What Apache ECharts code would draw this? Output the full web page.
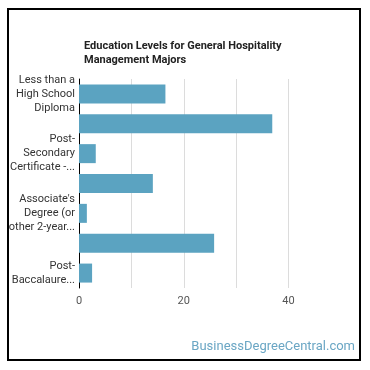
<!DOCTYPE html>
<html>
<head>
<meta charset="utf-8">
<script src="https://cdn.jsdelivr.net/npm/echarts@6/dist/echarts.min.js"></script>
<style>
html,body{margin:0;padding:0;background:#fff;}
#frame{position:absolute;left:7px;top:8px;width:350px;height:349px;border:2px solid #000;}
#chart{position:absolute;left:0;top:0;width:370px;height:370px;}
</style>
</head>
<body>
<div id="frame"></div>
<div id="chart"></div>
<script>
var titleText = "Education Levels for General Hospitality\nManagement Majors";
var categories = [
  "Less than a High School Diploma",
  "High School Diploma",
  "Post-Secondary Certificate - Awarded for training completed after high school",
  "Some College Courses",
  "Associate's Degree (or other 2-year degree)",
  "Bachelor's Degree",
  "Post-Baccalaureate Certificate"
];
var values = [16.5, 36.9, 3.2, 14.1, 1.5, 25.8, 2.5];
var xTicks = [0, 10, 20, 30, 40];
var watermark = "BusinessDegreeCentral.com";

var ctx = document.createElement('canvas').getContext('2d');
ctx.font = '11px Roboto';
function w(s){ return ctx.measureText(s).width; }
function wrapLabel(text){
  var W = 69, maxLines = 3;
  var tokens = [];
  text.split(' ').forEach(function(word){
    var parts = word.split(/(?<=-)(?=.)/);
    parts.forEach(function(p, i){ tokens.push({t:p, sp: i===parts.length-1}); });
  });
  var lines = [], cur = '';
  for (var i = 0; i < tokens.length; i++) {
    var tk = tokens[i];
    var cand = cur + tk.t;
    if (w(cand) <= W) { cur = cand + (tk.sp ? ' ' : ''); continue; }
    if (cur.trim() === '') {
      var s = tk.t;
      while (s.length && w(s + '...') > W) s = s.slice(0, -1);
      lines.push(s + '...');
      return lines.join('\n');
    }
    lines.push(cur.trim());
    if (lines.length === maxLines) {
      lines[maxLines-1] = lines[maxLines-1] + '...';
      return lines.join('\n');
    }
    cur = '';
    i--;
  }
  if (cur.trim()) lines.push(cur.trim());
  return lines.join('\n');
}

var chart = echarts.init(document.getElementById('chart'), null, {renderer:'canvas'});
chart.setOption({
  animation: false,
  title: {
    text: titleText, left: 79, top: 34,
    textStyle: {fontFamily: 'Roboto', fontSize: 11, fontWeight: 'bold', color: '#222', lineHeight: 14}
  },
  graphic: [{
    type: 'text', right: 15, top: 340,
    style: {text: watermark, fontFamily: 'Roboto', fontSize: 13, fill: '#6aa6c4'}
  }],
  grid: {left: 79, top: 79, width: 209.5, height: 209, containLabel: false},
  xAxis: {
    type: 'value', min: 0, max: 40, interval: 10,
    axisLine: {show: false}, axisTick: {show: false},
    splitLine: {show: true, lineStyle: {color: '#dcdcdc', width: 1}},
    axisLabel: {
      margin: 8, color: '#555', fontFamily: 'Roboto', fontSize: 11,
      formatter: function(v){ return (v % 20 === 0) ? String(v) : ''; }
    }
  },
  yAxis: {
    type: 'category', data: categories, inverse: true,
    axisLine: {show: true, lineStyle: {color: '#000', width: 1}},
    axisTick: {show: false},
    axisLabel: {
      interval: 1, margin: 4, color: '#333', fontFamily: 'Roboto', fontSize: 11, lineHeight: 14,
      align: 'right', formatter: wrapLabel
    }
  },
  series: [{
    type: 'bar', data: values, barWidth: 19,
    itemStyle: {color: '#5ba3c1'}
  }]
});
</script>
</body>
</html>
